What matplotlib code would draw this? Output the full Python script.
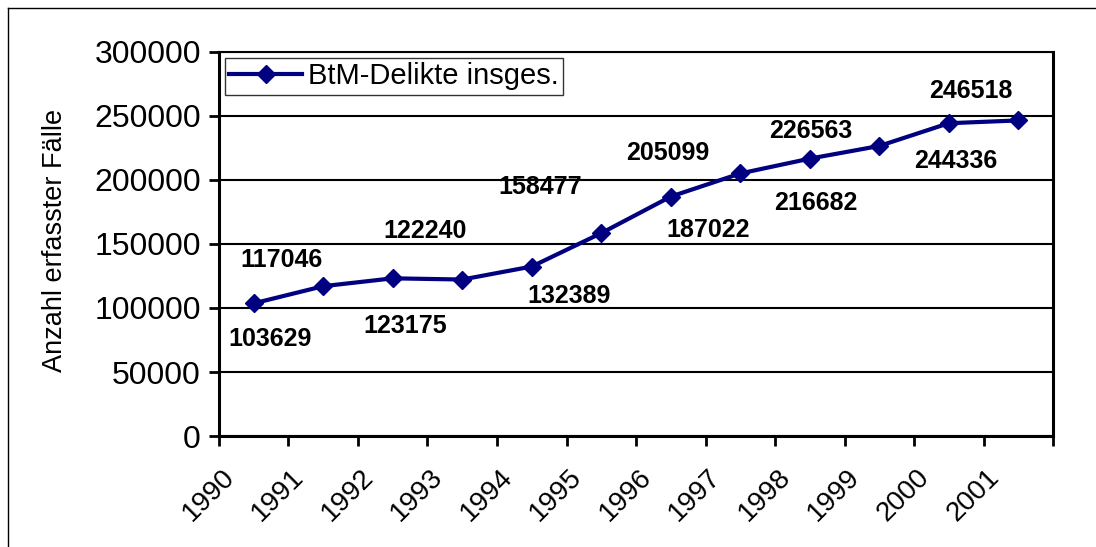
import matplotlib.pyplot as plt
from matplotlib.lines import Line2D

plt.rcParams['font.family'] = ['Liberation Sans', 'DejaVu Sans']

# Daten
years = ['1990', '1991', '1992', '1993', '1994', '1995',
         '1996', '1997', '1998', '1999', '2000', '2001']
cases = [103629, 117046, 123175, 122240, 132389, 158477,
         187022, 205099, 216682, 226563, 244336, 246518]
series_name = 'BtM-Delikte insges.'

# Position der Beschriftungen relativ zum Punkt (in pt)
label_offsets = [(12, -26), (-30, 19), (9, -34), (-27, 35), (27, -21), (-44, 33),
                 (27, -24), (-52, 15), (4, -32), (-49, 11), (5, -27), (-34, 21)]

navy = '#000080'

fig = plt.figure(figsize=(10.96, 5.47), dpi=100)
ax = fig.add_axes([0.1998, 0.2029, 0.7610, 0.7021])

xs = [i + 0.5 for i in range(len(years))]
ax.plot(xs, cases, color=navy, lw=3, marker='D', ms=9, mfc=navy, mec=navy,
        zorder=3)

for x, v, (dx, dy) in zip(xs, cases, label_offsets):
    ax.annotate(str(v), (x, v), xytext=(dx, dy), textcoords='offset points',
                ha='center', va='center', fontsize=18, fontweight='bold')

ax.set_xlim(0, len(years))
ax.set_ylim(0, 300000)
ax.set_yticks(range(0, 300001, 50000))
# Striche an den Jahresgrenzen, Beschriftung leicht nach rechts versetzt
ax.set_xticks(range(len(years) + 1))
ax.set_xticklabels([])
ax.set_xticks([i + 0.3 for i in range(len(years))], minor=True)
ax.set_xticklabels(years, minor=True, rotation=45, ha='right', fontsize=20)
ax.tick_params(axis='x', which='minor', length=0, pad=20)
ax.tick_params(axis='y', labelsize=23, pad=6)
ax.tick_params(which='major', direction='out', length=7, width=2)
ax.yaxis.grid(True, color='black', lw=1.5)
ax.set_axisbelow(True)

for s in ['left', 'bottom', 'right']:
    ax.spines[s].set_linewidth(2.2)
ax.spines['top'].set_linewidth(1.5)

ax.set_ylabel('Anzahl erfasster Fälle', fontsize=19.5)
ax.yaxis.set_label_coords(-0.181, 0.51)

handle = Line2D([], [], color=navy, lw=3, marker='D', ms=9)
leg = ax.legend([handle], [series_name], loc='upper left', fontsize=21,
                frameon=True, fancybox=False, borderaxespad=0.2,
                handlelength=2.5, handletextpad=0.2, borderpad=0.15)
leg.get_frame().set_edgecolor('black')
leg.get_frame().set_linewidth(1)

# Rahmen links/oben
fig.add_artist(Line2D([8 / 1096, 8 / 1096], [0, 1 - 8 / 547], color='black',
                      lw=1, transform=fig.transFigure))
fig.add_artist(Line2D([8 / 1096, 1], [1 - 8 / 547, 1 - 8 / 547], color='black',
                      lw=1, transform=fig.transFigure))

fig.savefig('out.png', dpi=100)
